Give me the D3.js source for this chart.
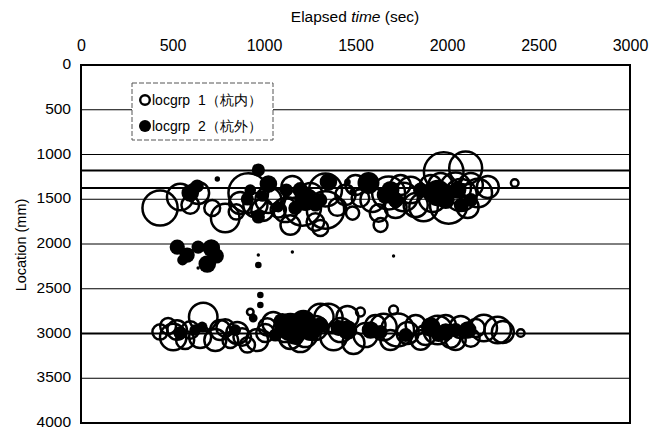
<!DOCTYPE html>
<html>
<head>
<meta charset="utf-8">
<script src="https://cdn.jsdelivr.net/npm/d3@7"></script>
<style>
  html, body { margin: 0; padding: 0; background: #fff; }
  svg { display: block; }
  text { font-family: "Liberation Sans", Arial, sans-serif; fill: #000; }
</style>
</head>
<body>
<svg id="chart" width="664" height="429"></svg>
<script>
// Axis ticks
const xTicks = [0, 500, 1000, 1500, 2000, 2500, 3000];
const yTicks = [0, 500, 1000, 1500, 2000, 2500, 3000, 3500, 4000];

// Reference locations (mm) drawn as heavier horizontal lines
const refLines = [1180, 1375, 3000];

// locgrp 1 (杭内): elapsed time (s), location (mm), amplitude
const grp1Time = [432, 542, 597, 640, 788, 870, 914, 991, 849, 1062, 1155, 1210, 1336, 1336, 1401, 1144, 1681, 1626, 1719, 1763, 1872, 1982, 2102, 2223, 2168, 2009, 2113, 2370, 1801, 1527, 1911, 2047, 1484, 1078, 1281,
  1024, 1117, 1254, 1445, 1593, 1829, 1921, 2075, 2130, 1965, 1746, 1500, 953, 717, 1308, 1637,
  432, 504, 525, 668, 651, 734, 854, 881, 925, 909, 963, 1051, 1018, 1308, 1352, 1380, 1456, 1489, 1527, 1653, 1708, 1730, 1785, 1949, 2075, 2201, 2277, 2305, 2403, 597, 788, 1144, 1226, 1856, 2020, 2130,
  1117, 1199, 1281, 1418, 1555, 1609, 1691, 1829, 1883, 1993, 2047, 2157, 476, 569, 761, 816, 1007];
const grp1Loc = [1598, 1475, 1564, 1430, 1709, 1542, 1430, 1620, 1642, 1475, 1363, 1587, 1397, 1620, 1587, 1788, 1430, 1654, 1587, 1475, 1587, 1196, 1151, 1363, 1430, 1564, 1587, 1318, 1397, 1486, 1352, 1374, 1654, 1620, 1754,
  1508, 1620, 1452, 1452, 1508, 1564, 1486, 1452, 1341, 1341, 1341, 1341, 1564, 1598, 1821, 1788,
  2983, 3039, 2961, 2816, 3039, 3073, 2994, 3039, 2760, 3128, 3073, 2883, 2927, 2816, 2827, 3039, 2816, 3106, 2760, 2927, 2737, 2961, 2994, 2961, 2927, 2938, 2961, 2983, 2994, 2961, 2938, 3050, 3017, 3073, 3050, 3050,
  2961, 3073, 2938, 2961, 3017, 2905, 3073, 2905, 3017, 2905, 3073, 2938, 2916, 3073, 2961, 3073, 2994];
const grp1Amp = [64, 36, 16, 25, 42, 25, 81, 25, 12, 16, 25, 72, 56, 72, 16, 20, 56, 16, 25, 42, 42, 81, 56, 25, 42, 72, 25, 3, 36, 16, 25, 49, 9, 12, 16,
  35, 30, 30, 21, 30, 30, 40, 53, 30, 30, 21, 21, 30, 13, 13, 10,
  12, 36, 20, 42, 25, 25, 25, 16, 2.25, 12, 25, 25, 16, 36, 42, 36, 25, 25, 4, 36, 4, 56, 25, 42, 25, 36, 36, 25, 3, 16, 16, 25, 30, 20, 20, 16,
  30, 30, 30, 30, 30, 21, 21, 21, 21, 21, 21, 17, 13, 17, 21, 13, 17];

// locgrp 2 (杭外): elapsed time (s), location (mm), amplitude
const grp2Time = [597, 635, 745, 969, 1024, 969, 909, 1078, 1226, 1122, 1352, 1456, 1484, 1571, 1664, 1949, 2058, 1856, 1281,
  1199, 1171, 1308, 1691, 1719, 1993, 2075, 2130, 925, 991,
  526, 580, 555, 640, 712, 739, 690, 640, 969, 969, 1155, 1708, 980, 980,
  662, 941, 1144, 1215, 1456, 1911, 2113, 1254, 1582, 1062, 542, 1993,
  1100, 1171, 1308, 1407, 1637, 1774, 1954, 2047, 624, 843];
const grp2Loc = [1430, 1352, 1274, 1173, 1330, 1698, 1497, 1587, 1508, 1397, 1307, 1307, 1419, 1318, 1452, 1430, 1397, 1397, 1564,
  1397, 1598, 1508, 1397, 1508, 1508, 1564, 1508, 1397, 1464,
  2034, 2123, 2179, 2034, 2045, 2134, 2223, 2268, 2123, 2235, 2089, 2134, 2570, 2682,
  2927, 2827, 2927, 2883, 2961, 2927, 2961, 2961, 2961, 3017, 2994, 2983,
  2871, 3017, 2905, 2938, 2983, 3017, 3006, 2961, 2961, 2961];
const grp2Amp = [16, 9, 1.5, 9, 16, 9, 9, 6, 25, 9, 16, 2.25, 2.25, 25, 16, 36, 16, 12, 9,
  13, 10, 10, 17, 13, 17, 10, 10, 7, 7,
  12, 12, 6, 9, 16, 12, 16, 0.6, 0.6, 2.25, 0.6, 0.6, 2.25, 2.25,
  6, 4, 42, 36, 20, 20, 16, 25, 16, 9, 9, 16,
  17, 21, 13, 13, 10, 10, 13, 10, 7, 7];

const legendLabels = ["locgrp\u00a0\u00a01（杭内）", "locgrp\u00a0\u00a02（杭外）"];

const svg = d3.select("#chart");
const plot = { left: 81, top: 65, right: 630, bottom: 423 };

const x = d3.scaleLinear().domain([0, 3000]).range([plot.left, plot.right]);
const y = d3.scaleLinear().domain([0, 4000]).range([plot.top, plot.bottom]);
const r = d3.scaleSqrt().domain([0, 100]).range([0, 22]);

// Gridlines
svg.append("g")
  .selectAll("line")
  .data(yTicks.filter(d => d > 0 && d < 4000))
  .join("line")
  .attr("x1", plot.left).attr("x2", plot.right)
  .attr("y1", d => y(d)).attr("y2", d => y(d))
  .attr("stroke", "#000").attr("stroke-width", 1);

// Reference lines
svg.append("g")
  .selectAll("line")
  .data(refLines)
  .join("line")
  .attr("x1", plot.left).attr("x2", plot.right)
  .attr("y1", d => y(d)).attr("y2", d => y(d))
  .attr("stroke", "#000").attr("stroke-width", 2);

const grp1 = grp1Time.map((t, i) => ({ t, loc: grp1Loc[i], amp: grp1Amp[i] }));
const grp2 = grp2Time.map((t, i) => ({ t, loc: grp2Loc[i], amp: grp2Amp[i] }));

// locgrp 1: open circles
svg.append("g")
  .selectAll("circle")
  .data(grp1)
  .join("circle")
  .attr("cx", d => x(d.t)).attr("cy", d => y(d.loc))
  .attr("r", d => r(d.amp))
  .attr("fill", "none").attr("stroke", "#000").attr("stroke-width", 2.5);

// locgrp 2: filled circles
svg.append("g")
  .selectAll("circle")
  .data(grp2)
  .join("circle")
  .attr("cx", d => x(d.t)).attr("cy", d => y(d.loc))
  .attr("r", d => r(d.amp))
  .attr("fill", "#000");

// Plot frame
svg.append("rect")
  .attr("x", plot.left).attr("y", plot.top)
  .attr("width", plot.right - plot.left).attr("height", plot.bottom - plot.top)
  .attr("fill", "none").attr("stroke", "#000").attr("stroke-width", 2);

// Top axis
const xAxis = svg.append("g")
  .attr("transform", `translate(0,${plot.top - 14})`)
  .call(d3.axisTop(x).tickValues(xTicks).tickFormat(d3.format("d")).tickSize(0).tickPadding(0));
xAxis.select(".domain").remove();
xAxis.selectAll("text").attr("font-size", 16).attr("font-family", "Liberation Sans, Arial, sans-serif");

// Left axis
const yAxis = svg.append("g")
  .attr("transform", `translate(${plot.left - 10},0)`)
  .call(d3.axisLeft(y).tickValues(yTicks).tickFormat(d3.format("d")).tickSize(0).tickPadding(0));
yAxis.select(".domain").remove();
yAxis.selectAll("text")
  .attr("font-size", 15.5)
  .attr("dy", "0.24em")
  .attr("font-family", "Liberation Sans, Arial, sans-serif");

// Axis titles
const xTitle = svg.append("text")
  .attr("x", 355).attr("y", 22)
  .attr("text-anchor", "middle").attr("font-size", 15.5);
xTitle.append("tspan").text("Elapsed ");
xTitle.append("tspan").attr("font-style", "italic").text("time");
xTitle.append("tspan").text(" (sec)");

svg.append("text")
  .attr("transform", "translate(26,245) rotate(-90)")
  .attr("text-anchor", "middle").attr("font-size", 14.5)
  .text("Location (mm)");

// Legend
const legend = svg.append("g");
legend.append("rect")
  .attr("x", 132).attr("y", 83).attr("width", 141).attr("height", 57)
  .attr("fill", "#fff").attr("stroke", "#555").attr("stroke-width", 1)
  .attr("stroke-dasharray", "5,2");
const items = legend.selectAll("g.item")
  .data(legendLabels)
  .join("g").attr("class", "item")
  .attr("transform", (d, i) => `translate(145,${100 + i * 26})`);
items.append("circle")
  .attr("r", (d, i) => i === 0 ? 4.8 : 6)
  .attr("fill", (d, i) => i === 0 ? "none" : "#000")
  .attr("stroke", "#000").attr("stroke-width", (d, i) => i === 0 ? 2.4 : 0);
items.append("text")
  .attr("x", 7).attr("y", 5)
  .attr("font-size", 14)
  .attr("font-family", "Liberation Sans, 'Noto Sans CJK JP', sans-serif")
  .text(d => d);
</script>
</body>
</html>
